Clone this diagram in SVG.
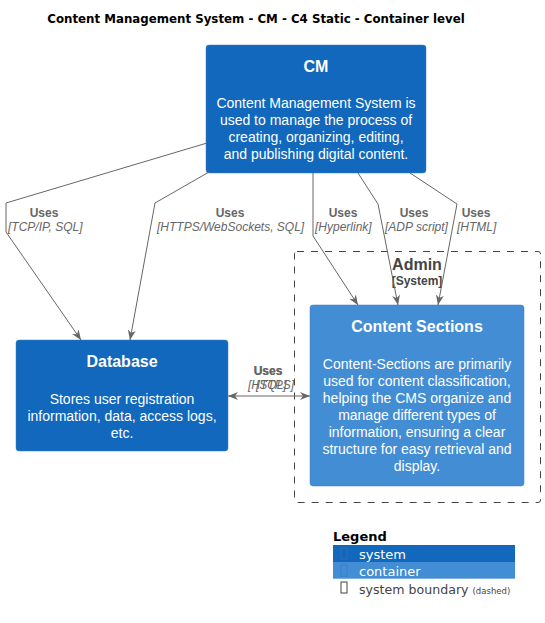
<svg xmlns="http://www.w3.org/2000/svg" width="545" height="623" viewBox="0 0 545 623">
<defs>
<marker id="ah" viewBox="0 0 10 8" refX="10" refY="4" markerWidth="10" markerHeight="8" markerUnits="userSpaceOnUse" orient="auto-start-reverse">
<path d="M0,0 L10,4 L0,8 L3,4 Z" fill="#666666"/>
</marker>
<style>
text{font-family:"Liberation Sans",Arial,sans-serif}
.t{font-size:16px;font-weight:bold;fill:#FFFFFF;text-anchor:middle}
.d{font-size:14px;fill:#FFFFFF;text-anchor:middle}
.u{font-size:12px;font-weight:bold;fill:#666666;text-anchor:middle}
.k{font-size:12px;font-style:italic;fill:#666666}
.c{fill:none;stroke:#666666;stroke-width:1;marker-end:url(#ah)}
</style>
</defs>
<rect width="545" height="623" fill="#FFFFFF"/>
<text x="256" y="23" style="font-family:'DejaVu Sans',sans-serif;font-size:11.8px;font-weight:bold;text-anchor:middle" fill="#000000">Content Management System - CM - C4 Static - Container level</text>

<g id="admin">
<rect x="294.5" y="251.5" width="246" height="251" rx="2.5" fill="none" stroke="#444444" stroke-dasharray="7,7"/>
<text x="417" y="270" style="font-size:16px;font-weight:bold;text-anchor:middle" fill="#444444">Admin</text>
<text x="417" y="285" style="font-size:12px;font-weight:bold;text-anchor:middle" fill="#444444">[System]</text>
</g>

<g id="cm">
<rect x="206" y="45" width="220" height="128" rx="3" fill="#1168BD" stroke="#3C7FC0" stroke-width="0.5"/>
<text class="t" x="316" y="72">CM</text>
<text class="d" x="316" y="108">Content Management System is</text>
<text class="d" x="316" y="125">used to manage the process of</text>
<text class="d" x="316" y="142">creating, organizing, editing,</text>
<text class="d" x="316" y="159">and publishing digital content.</text>
</g>

<g id="database">
<rect x="16" y="340" width="212" height="111" rx="3" fill="#1168BD" stroke="#3C7FC0" stroke-width="0.5"/>
<text class="t" x="122" y="367">Database</text>
<text class="d" x="122" y="404">Stores user registration</text>
<text class="d" x="122" y="421">information, data, access logs,</text>
<text class="d" x="122" y="438">etc.</text>
</g>

<g id="content-sections">
<rect x="310" y="305" width="214" height="181" rx="3" fill="#438DD5" stroke="#3C7FC0" stroke-width="0.5"/>
<text class="t" x="417" y="332">Content Sections</text>
<text class="d" x="417" y="369">Content-Sections are primarily</text>
<text class="d" x="417" y="386">used for content classification,</text>
<text class="d" x="417" y="403">helping the CMS organize and</text>
<text class="d" x="417" y="420">manage different types of</text>
<text class="d" x="417" y="437">information, ensuring a clear</text>
<text class="d" x="417" y="454">structure for easy retrieval and</text>
<text class="d" x="417" y="471">display.</text>
</g>

<g id="connectors">
<path class="c" d="M207,143 L6,203 L6,232 L81,340"/>
<text class="u" x="44" y="217">Uses</text>
<text class="k" x="8" y="231">[TCP/IP, SQL]</text>

<path class="c" d="M209,172 L155,203 L130,340"/>
<text class="u" x="230" y="217">Uses</text>
<text class="k" x="157" y="231">[HTTPS/WebSockets, SQL]</text>

<path class="c" d="M313,173 L313,236 L358,305"/>
<text class="u" x="343" y="217">Uses</text>
<text class="k" x="315" y="231">[Hyperlink]</text>

<path class="c" d="M358,173 L378,204 L398,305"/>
<text class="u" x="414" y="217">Uses</text>
<text class="k" x="385" y="231">[ADP script]</text>

<path class="c" d="M410,173 L457,204 L438,305"/>
<text class="u" x="476" y="217">Uses</text>
<text class="k" x="457" y="231">[HTML]</text>

<path class="c" d="M228,396 L310,396" style="marker-start:url(#ah)"/>
<text class="u" x="268" y="375">Uses</text>
<text class="k" x="248" y="389">[HTTPS]</text>
<text class="u" x="268" y="375">Uses</text>
<text class="k" x="256" y="389">[SQL]</text>
</g>

<g id="legend">
<text x="333" y="541" style="font-family:'DejaVu Sans',sans-serif;font-size:13px;font-weight:bold" fill="#000000">Legend</text>
<rect x="333" y="545" width="182" height="17" fill="#1168BD"/>
<rect x="333" y="562" width="182" height="17" fill="#438DD5"/>
<rect x="333" y="578" width="182" height="1" fill="#7FB0E0"/>
<rect x="341" y="548" width="6" height="11" fill="none" stroke="#2E6FB0" stroke-width="1"/>
<rect x="341" y="565" width="6" height="11" fill="none" stroke="#3A82C8" stroke-width="1"/>
<rect x="341" y="582" width="6" height="11" fill="none" stroke="#444444" stroke-width="1"/>
<text x="359" y="559" style="font-family:'DejaVu Sans',sans-serif;font-size:13px" fill="#FFFFFF">system</text>
<text x="359" y="576" style="font-family:'DejaVu Sans',sans-serif;font-size:13px" fill="#FFFFFF">container</text>
<text x="359" y="594" style="font-family:'DejaVu Sans',sans-serif;font-size:12.6px" fill="#444444">system boundary <tspan style="font-size:8.5px">(dashed)</tspan></text>
</g>
</svg>
